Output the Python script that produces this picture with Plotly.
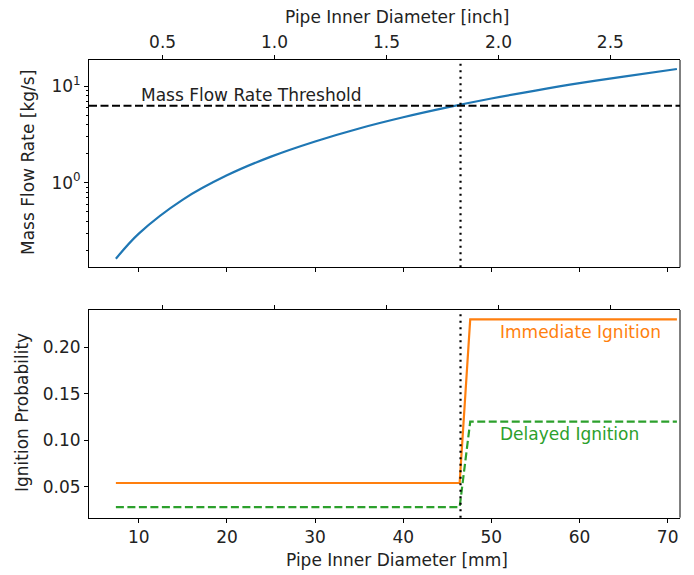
import plotly.graph_objects as go
import math

# ---- data ----
diam_mm = [7.4, 10, 15, 20, 25, 30, 35, 40, 45, 50, 55, 60, 65, 71.05]
mass_flow = [0.163, 0.297, 0.668, 1.19, 1.86, 2.67, 3.64, 4.75, 6.01, 7.43, 8.98, 10.7, 12.5, 15.0]
threshold = 6.25
crit_diam = 46.5

ign_diam = [7.4, 46.4, 47.6, 71.05]
immediate_p = [0.054, 0.054, 0.23, 0.23]
delayed_p = [0.028, 0.028, 0.12, 0.12]

mm_ticks = [10, 20, 30, 40, 50, 60, 70]
inch_ticks = [0.5, 1.0, 1.5, 2.0, 2.5]
log_major = [1, 10]
log_major_text = ["10<sup>0</sup>", "10<sup>1</sup>"]
log_minor = [0.2, 0.3, 0.4, 0.5, 0.6, 0.7, 0.8, 0.9, 2, 3, 4, 5, 6, 7, 8, 9]
prob_ticks = [0.05, 0.10, 0.15, 0.20]

MM_PER_INCH = 25.4
x_range = [4.35, 71.4]
inch_range = [v / MM_PER_INCH for v in x_range]

W, H = 694, 575
BLUE, ORANGE, GREEN = "#1f77b4", "#ff7f0e", "#2ca02c"
FONT = "DejaVu Sans"
FS = 17
TXT = "#222"

xdom = [89 / W, 680 / W]
top_dom = [1 - 267.3 / H, 1 - 60 / H]
bot_dom = [1 - 517.7 / H, 1 - 310 / H]

fig = go.Figure()

# top plot
fig.add_trace(go.Scatter(x=diam_mm, y=mass_flow, mode="lines", line=dict(color=BLUE, width=2.2, shape="spline"),
                         xaxis="x2", yaxis="y2", showlegend=False, hoverinfo="skip"))
# invisible traces so the inch axes render
fig.add_trace(go.Scatter(x=inch_range, y=[1, 1], mode="lines", line=dict(width=0), opacity=0,
                         xaxis="x3", yaxis="y2", showlegend=False, hoverinfo="skip"))
fig.add_trace(go.Scatter(x=inch_range, y=[0.1, 0.1], mode="lines", line=dict(width=0), opacity=0,
                         xaxis="x4", yaxis="y", showlegend=False, hoverinfo="skip"))

# bottom plot
fig.add_trace(go.Scatter(x=ign_diam, y=immediate_p, mode="lines", line=dict(color=ORANGE, width=2.2),
                         xaxis="x", yaxis="y", showlegend=False, hoverinfo="skip"))
fig.add_trace(go.Scatter(x=ign_diam, y=delayed_p, mode="lines", line=dict(color=GREEN, width=2.2, dash="8px,3.5px"),
                         xaxis="x", yaxis="y", showlegend=False, hoverinfo="skip"))

shapes = [
    dict(type="line", xref="x2 domain", yref="y2", x0=0, x1=1, y0=threshold, y1=threshold,
         line=dict(color="black", width=2, dash="8px,3.5px")),
    dict(type="line", xref="x2", yref="y2 domain", x0=crit_diam, x1=crit_diam, y0=0, y1=1,
         line=dict(color="black", width=2.2, dash="2px,4.5px")),
    dict(type="line", xref="x", yref="y domain", x0=crit_diam, x1=crit_diam, y0=0, y1=1,
         line=dict(color="black", width=2.2, dash="2px,4.5px")),
    # right spines
    dict(type="line", xref="paper", yref="paper", x0=xdom[1], x1=xdom[1], y0=top_dom[0], y1=top_dom[1],
         line=dict(color="black", width=1)),
    dict(type="line", xref="paper", yref="paper", x0=xdom[1], x1=xdom[1], y0=bot_dom[0], y1=bot_dom[1],
         line=dict(color="black", width=1)),
]

axis_common = dict(showline=True, linecolor="black", linewidth=1, ticks="outside", ticklen=4,
                   tickwidth=1, tickcolor="black", showgrid=False, zeroline=False,
                   tickfont=dict(family=FONT, size=FS, color=TXT))

annotations = [
    dict(text="Mass Flow Rate Threshold", x=10, y=math.log10(8.1), xref="x2", yref="y2",
         xanchor="left", yanchor="middle", showarrow=False, font=dict(family=FONT, size=FS, color=TXT)),
    dict(text="Immediate Ignition", x=50.8, y=0.2165, xref="x", yref="y",
         xanchor="left", yanchor="middle", showarrow=False, font=dict(family=FONT, size=FS, color=ORANGE)),
    dict(text="Delayed Ignition", x=50.8, y=0.1065, xref="x", yref="y",
         xanchor="left", yanchor="middle", showarrow=False, font=dict(family=FONT, size=FS, color=GREEN)),
    dict(text="Pipe Inner Diameter [inch]", x=397 / W, y=1 - 17 / H, xref="paper", yref="paper",
         xanchor="center", yanchor="middle", showarrow=False, font=dict(family=FONT, size=FS, color=TXT)),
    dict(text="Pipe Inner Diameter [mm]", x=397 / W, y=1 - 560 / H, xref="paper", yref="paper",
         xanchor="center", yanchor="middle", showarrow=False, font=dict(family=FONT, size=FS, color=TXT)),
    dict(text="Mass Flow Rate [kg/s]", x=28 / W, y=1 - 163 / H, xref="paper", yref="paper", textangle=-90,
         xanchor="center", yanchor="middle", showarrow=False, font=dict(family=FONT, size=FS, color=TXT)),
    dict(text="Ignition Probability", x=22 / W, y=1 - 413 / H, xref="paper", yref="paper", textangle=-90,
         xanchor="center", yanchor="middle", showarrow=False, font=dict(family=FONT, size=FS, color=TXT)),
]

fig.update_layout(
    width=W, height=H, margin=dict(l=0, r=0, t=0, b=0),
    paper_bgcolor="white", plot_bgcolor="white",
    font=dict(family=FONT, size=FS, color=TXT),
    shapes=shapes, annotations=annotations,
    xaxis=dict(axis_common, domain=xdom, anchor="y", range=x_range, tickmode="array", tickvals=mm_ticks,
               mirror=False),
    xaxis2=dict(axis_common, domain=xdom, anchor="y2", range=x_range, tickmode="array", tickvals=mm_ticks,
                showticklabels=False, mirror=False),
    xaxis3=dict(axis_common, overlaying="x2", anchor="y2", side="top", range=inch_range, tickmode="array",
                tickvals=inch_ticks, tickformat=".1f"),
    xaxis4=dict(axis_common, overlaying="x", anchor="y", side="top", range=inch_range, tickmode="array",
                tickvals=inch_ticks, showticklabels=False),
    yaxis=dict(axis_common, domain=bot_dom, anchor="x", range=[0.0167, 0.240], tickmode="array",
               tickvals=prob_ticks, tickformat=".2f"),
    yaxis2=dict(axis_common, domain=top_dom, anchor="x2", type="log",
                range=[math.log10(0.133), math.log10(18.6)], tickmode="array", tickvals=log_major,
                ticktext=log_major_text,
                minor=dict(tickmode="array", tickvals=log_minor, ticks="outside", ticklen=2, tickwidth=0.8,
                           tickcolor="black", showgrid=False)),
)

fig.write_html("out.html")
